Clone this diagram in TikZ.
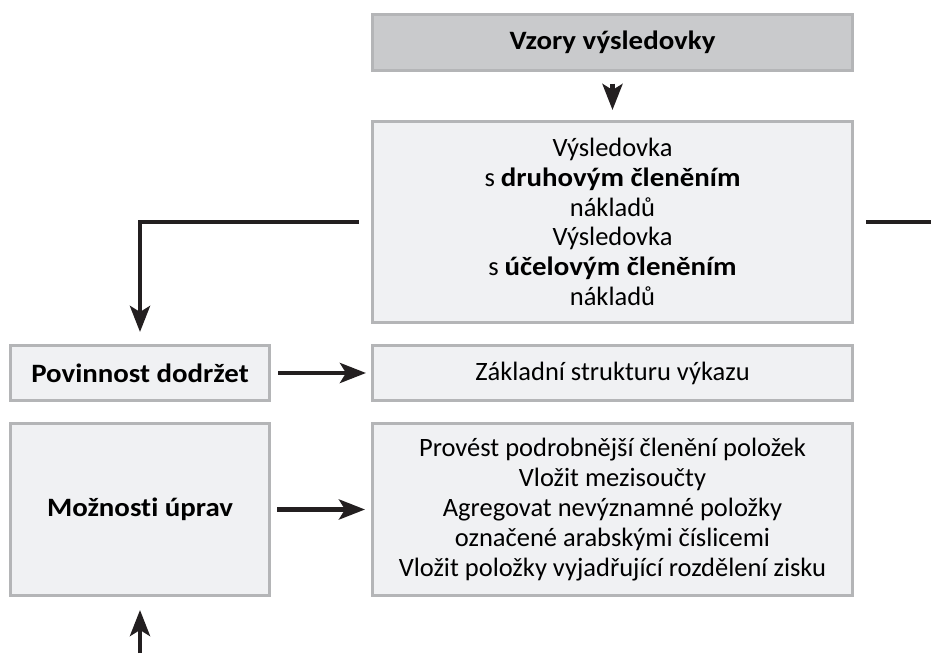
\documentclass[tikz,border=0pt]{standalone}
\usepackage{fontspec}
\setmainfont{Carlito}[Ligatures=NoCommon, BoldFeatures={FakeStretch=1.09}]
\usetikzlibrary{arrows.meta}

\definecolor{ramecek}{HTML}{B4B5B7}
\definecolor{svetla}{HTML}{F0F1F3}
\definecolor{tmava}{HTML}{C9CACC}
\definecolor{sipka}{HTML}{231F20}

\tikzset{
  box/.style={draw=ramecek, line width=3pt, fill=svetla, inner sep=0pt,
    align=center, font=\fontsize{26.5}{29.8}\selectfont},
  headbox/.style={box, fill=tmava, line width=2.5pt},
  arr/.style={draw=sipka, line width=4.5pt,
    -{Stealth[length=26pt, width=20pt, inset=6pt]}},
  line/.style={draw=sipka, line width=4.5pt}
}

\begin{document}
\begin{tikzpicture}[x=1pt,y=1pt]
\useasboundingbox (0,0) rectangle (931,653);
\node[headbox, minimum width=480pt, minimum height=56pt](vzory) at(612.5,610.5){\textbf{Vzory výsledovky}};
\node[box, minimum width=480pt, minimum height=201pt](vysledovka) at(612.5,431){Výsledovka\\s \textbf{druhovým členěním}\\nákladů\\Výsledovka\\s \textbf{účelovým členěním}\\nákladů};
\node[box, minimum width=259pt, minimum height=55pt](povinnost) at(140,280){\textbf{Povinnost dodržet}};
\node[box, minimum width=480pt, minimum height=55pt](zaklad) at(612.5,280){Základní strukturu výkazu};
\node[box, minimum width=259pt, minimum height=172pt](moznosti) at(140,143.5){\textbf{Možnosti úprav}};
\node[box, minimum width=480pt, minimum height=172pt](upravy) at(612.5,143.5){Provést podrobnější členění položek\\Vložit mezisoučty\\Agregovat nevýznamné položky\\označené arabskými číslicemi\\Vložit položky vyjadřující rozdělení zisku};
\coordinate(vpravo) at(931,431);
\coordinate(dole) at(140,0);
\draw[arr, shorten <=12pt, shorten >=10pt](vzory)--(vysledovka);
\draw[arr, shorten <=12pt, shorten >=12pt](vysledovka.west)-|(povinnost.north);
\draw[line, shorten <=12pt](vysledovka.east)--(vpravo);
\draw[arr, shorten <=7pt, shorten >=5pt](povinnost)--(zaklad);
\draw[arr, shorten <=6pt, shorten >=6pt](moznosti)--(upravy);
\draw[arr, shorten >=13pt](dole)--(moznosti.south);
\end{tikzpicture}
\end{document}
